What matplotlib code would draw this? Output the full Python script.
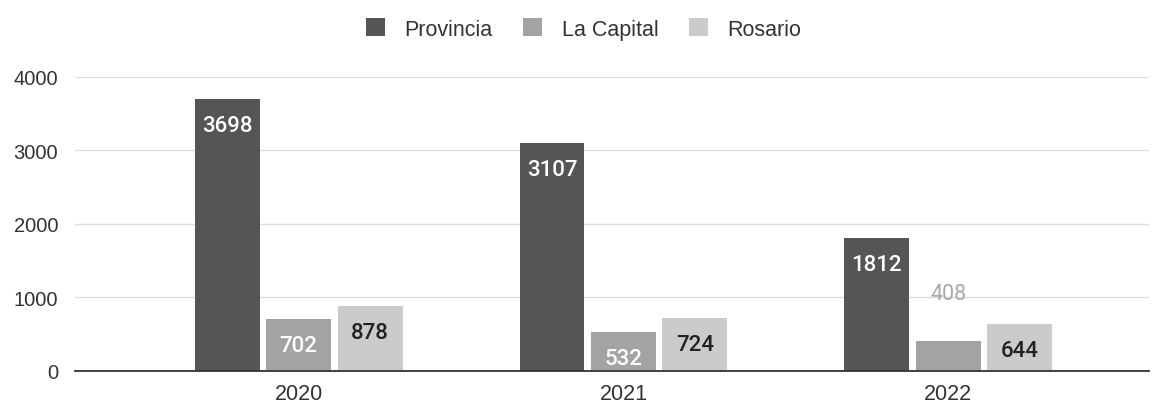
import matplotlib
matplotlib.use("Agg")
import matplotlib.pyplot as plt
import numpy as np

years = ["2020", "2021", "2022"]
series_names = ["Provincia", "La Capital", "Rosario"]
provincia = [3698, 3107, 1812]
la_capital = [702, 532, 408]
rosario = [878, 724, 644]
yticks = [0, 1000, 2000, 3000, 4000]

colors = ["#555555", "#a3a3a3", "#cbcbcb"]
label_colors = ["white", "white", "#222222"]

plt.rcParams['font.family'] = ['Liberation Sans', 'DejaVu Sans']

fig = plt.figure(figsize=(11.67, 4.06), dpi=100)
ax = fig.add_axes([0.064, 0.084, 0.921, 0.724])

x = np.arange(len(years))
w = 0.2
gap = 0.02
offsets = [-(w + gap), 0, (w + gap)]
all_vals = [provincia, la_capital, rosario]
for i, (name, vals) in enumerate(zip(series_names, all_vals)):
    bars = ax.bar(x + offsets[i], vals, width=w, color=colors[i], label=name, zorder=3)
    for b, v in zip(bars, vals):
        cx = b.get_x() + b.get_width() / 2
        if v < 450:
            ax.text(cx, v + 640, str(v), ha="center", va="center", fontsize=15.5,
                    color="#a8a8a8", family=["Roboto", "DejaVu Sans"], zorder=4)
        else:
            ax.text(cx, v - 360, str(v), ha="center", va="center", fontsize=16,
                    color=label_colors[i], fontweight="medium",
                    family=["Roboto", "DejaVu Sans"], zorder=4)

ax.set_xlim(-0.69, 2.62)
ax.set_ylim(0, 4000)
ax.set_yticks(yticks)
ax.set_yticklabels([str(t) for t in yticks], fontsize=14.5, color="#333333")
ax.set_xticks(x)
ax.set_xticklabels(years, fontsize=15.5, color="#333333")
ax.tick_params(axis="both", length=0)
ax.tick_params(axis="x", pad=9)
ax.tick_params(axis="y", pad=12)
ax.grid(axis="y", color="#dddddd", linewidth=1, zorder=0)
for s in ["top", "right", "left"]:
    ax.spines[s].set_visible(False)
ax.spines["bottom"].set_color("#333333")
ax.spines["bottom"].set_linewidth(1.3)
ax.spines["bottom"].set_zorder(5)

fig.legend(loc="upper center", bbox_to_anchor=(0.5, 1.0), ncol=3, frameon=False,
           fontsize=15.5, handlelength=0.9, handleheight=0.9, columnspacing=1.4,
           handletextpad=0.9, labelcolor="#333333")

fig.savefig("out.png", dpi=100, facecolor="white")
